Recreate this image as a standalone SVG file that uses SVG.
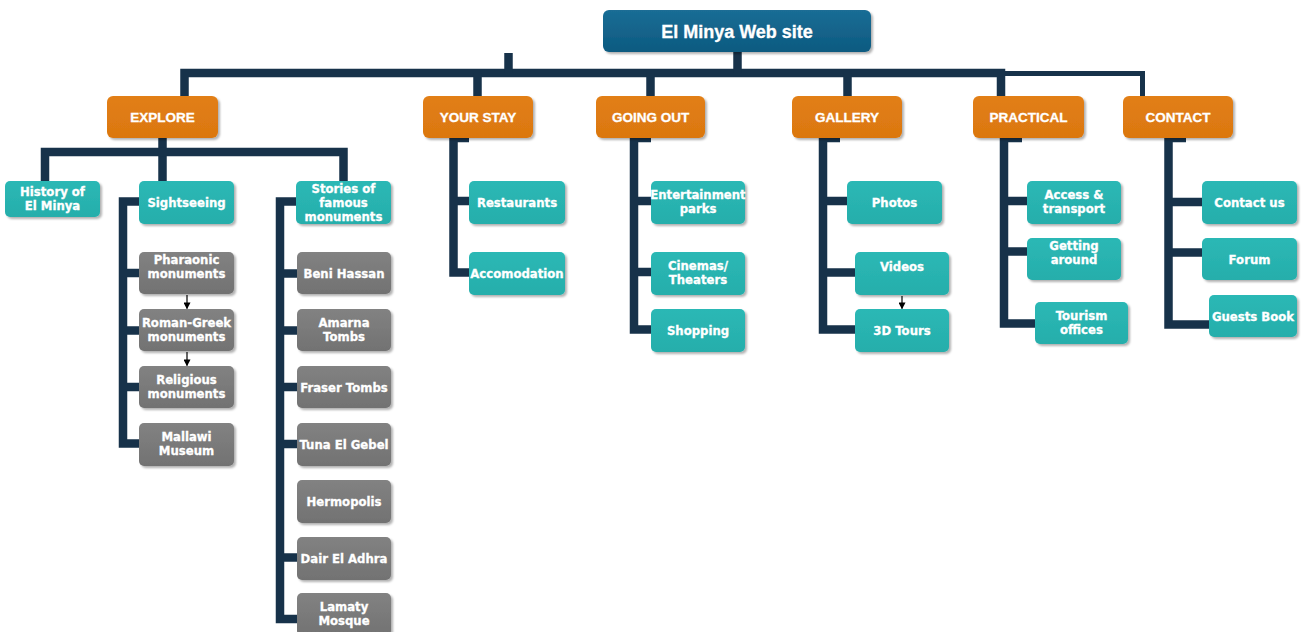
<svg xmlns="http://www.w3.org/2000/svg" width="1306" height="632" viewBox="0 0 1306 632">
<defs>
<linearGradient id="gBlue" x1="0" y1="0" x2="0" y2="1"><stop offset="0" stop-color="#1a6d95"/><stop offset="1" stop-color="#0d5a80"/></linearGradient>
<linearGradient id="gOr" x1="0" y1="0" x2="0" y2="1"><stop offset="0" stop-color="#e27f15"/><stop offset="1" stop-color="#db7710"/></linearGradient>
<linearGradient id="gTeal" x1="0" y1="0" x2="0" y2="1"><stop offset="0" stop-color="#2cb8b5"/><stop offset="1" stop-color="#25aeab"/></linearGradient>
<linearGradient id="gGray" x1="0" y1="0" x2="0" y2="1"><stop offset="0" stop-color="#828282"/><stop offset="1" stop-color="#727272"/></linearGradient>
<filter id="sh" x="-10%" y="-10%" width="125%" height="135%"><feDropShadow dx="2" dy="2" stdDeviation="1.2" flood-color="#000" flood-opacity="0.3"/></filter>
<marker id="ar" viewBox="0 0 8 8" refX="7" refY="4" markerWidth="7" markerHeight="7" markerUnits="userSpaceOnUse" orient="auto"><path d="M0,0 L8,4 L0,8 Z" fill="#000"/></marker>
</defs>
<style>
.c{fill:none;stroke:#17324a;stroke-width:8.5;stroke-linejoin:miter;stroke-linecap:butt}
.ct{fill:none;stroke:#17324a;stroke-width:5}
.a{fill:none;stroke:#000;stroke-width:1.2;marker-end:url(#ar)}
.root rect{fill:url(#gBlue);filter:url(#sh)}
.or rect{fill:url(#gOr);filter:url(#sh)}
.tl rect{fill:url(#gTeal);filter:url(#sh)}
.gr rect{fill:url(#gGray);filter:url(#sh)}
text{fill:#fff;stroke:#fff;stroke-width:0.3;font-weight:bold;text-anchor:middle}
.root text{font-family:"Liberation Sans",Arial,sans-serif;font-size:18px}
.or text{font-family:"Liberation Sans",Arial,sans-serif;font-size:13.5px}
.tl text,.gr text{font-family:"DejaVu Sans",Verdana,sans-serif;font-size:11.7px}
</style>
<rect width="1306" height="632" fill="#fff"/>
<g id="connectors">
<path class="c" d="M184.5,96 V73 H1001 V96"/>
<path class="ct" d="M1001,73.5 H1142.5 V96"/>
<path class="c" d="M737.5,52 V73"/>
<path class="c" d="M508.5,53 V73"/>
<path class="c" d="M477.5,73 V96"/>
<path class="c" d="M650.5,73 V96"/>
<path class="c" d="M847.5,73 V96"/>
<path class="c" d="M162.5,138 V181"/>
<path class="c" d="M45,181 V152 H343.5 V181"/>
<path class="c" d="M139,201.5 H123 V443.5 H139 M123,273 H139 M123,330.5 H139 M123,387 H139"/>
<path class="c" d="M297,201.5 H280 V619 H297 M280,273.5 H297 M280,330.5 H297 M280,387 H297 M280,444 H297 M280,557.5 H297"/>
<path class="c" d="M469,138 H453.5 V272.5 H469 M453.5,201 H469"/>
<path class="c" d="M651,138 H634 V329.5 H651 M634,201 H651 M634,272 H651"/>
<path class="c" d="M840,138 H823 V329.5 H855 M823,201 H847 M823,272.5 H855"/>
<path class="c" d="M1022,138 H1004 V323.5 H1035 M1004,201 H1027 M1004,251.5 H1027"/>
<path class="c" d="M1186,138 H1168.5 V324.5 H1209 M1168.5,202 H1202 M1168.5,252.5 H1202"/>
<path class="a" d="M187,295 V308.5"/>
<path class="a" d="M187,352 V365.5"/>
<path class="a" d="M902,296 V308.5"/>
</g>
<g id="n-root" class="root"><rect x="603" y="10" width="268" height="42" rx="6"/><text x="737" y="37.5">El Minya Web site</text></g>
<g id="n-explore" class="or"><rect x="107" y="96" width="111" height="42" rx="6"/><text x="162.5" y="121.5">EXPLORE</text></g>
<g id="n-yourstay" class="or"><rect x="423" y="96" width="110" height="42" rx="6"/><text x="478" y="121.5">YOUR STAY</text></g>
<g id="n-goingout" class="or"><rect x="596" y="96" width="109" height="42" rx="6"/><text x="650.5" y="121.5">GOING OUT</text></g>
<g id="n-gallery" class="or"><rect x="792" y="96" width="110" height="42" rx="6"/><text x="847" y="121.5">GALLERY</text></g>
<g id="n-practical" class="or"><rect x="973" y="96" width="111" height="42" rx="6"/><text x="1028.5" y="121.5">PRACTICAL</text></g>
<g id="n-contact" class="or"><rect x="1123" y="96" width="110" height="42" rx="6"/><text x="1178" y="121.5">CONTACT</text></g>
<g id="n-history" class="tl"><rect x="5" y="181" width="95" height="36" rx="5"/><text x="52.5" y="196">History of</text><text x="52.5" y="210">El Minya</text></g>
<g id="n-sightseeing" class="tl"><rect x="139" y="181" width="95" height="43" rx="5"/><text x="186.5" y="206.5">Sightseeing</text></g>
<g id="n-stories" class="tl"><rect x="296" y="181" width="95" height="43" rx="5"/><text x="343.5" y="192.5">Stories of</text><text x="343.5" y="206.5">famous</text><text x="343.5" y="220.5">monuments</text></g>
<g id="n-pharaonic" class="gr"><rect x="139" y="252" width="95" height="42" rx="5"/><text x="186.5" y="264">Pharaonic</text><text x="186.5" y="278">monuments</text></g>
<g id="n-romangreek" class="gr"><rect x="139" y="309" width="95" height="42" rx="5"/><text x="186.5" y="327">Roman-Greek</text><text x="186.5" y="341">monuments</text></g>
<g id="n-religious" class="gr"><rect x="139" y="366" width="95" height="42" rx="5"/><text x="186.5" y="384">Religious</text><text x="186.5" y="398">monuments</text></g>
<g id="n-mallawi" class="gr"><rect x="139" y="423" width="95" height="43" rx="5"/><text x="186.5" y="441">Mallawi</text><text x="186.5" y="455">Museum</text></g>
<g id="n-beni" class="gr"><rect x="297" y="252" width="94" height="42" rx="5"/><text x="344" y="277.5">Beni Hassan</text></g>
<g id="n-amarna" class="gr"><rect x="297" y="309" width="94" height="42" rx="5"/><text x="344" y="327">Amarna</text><text x="344" y="341">Tombs</text></g>
<g id="n-fraser" class="gr"><rect x="297" y="366" width="94" height="42" rx="5"/><text x="344" y="391.5">Fraser Tombs</text></g>
<g id="n-tuna" class="gr"><rect x="297" y="423" width="94" height="43" rx="5"/><text x="344" y="448.5">Tuna El Gebel</text></g>
<g id="n-hermopolis" class="gr"><rect x="297" y="480" width="94" height="43" rx="5"/><text x="344" y="505.5">Hermopolis</text></g>
<g id="n-dair" class="gr"><rect x="297" y="537" width="94" height="43" rx="5"/><text x="344" y="562.5">Dair El Adhra</text></g>
<g id="n-lamaty" class="gr"><rect x="297" y="593" width="94" height="43" rx="5"/><text x="344" y="611">Lamaty</text><text x="344" y="625">Mosque</text></g>
<g id="n-restaurants" class="tl"><rect x="469" y="181" width="96" height="43" rx="5"/><text x="517" y="206.5">Restaurants</text></g>
<g id="n-accomodation" class="tl"><rect x="469" y="252" width="96" height="43" rx="5"/><text x="517" y="277.5">Accomodation</text></g>
<g id="n-entertainment" class="tl"><rect x="651" y="181" width="94" height="43" rx="5"/><text x="698" y="199">Entertainment</text><text x="698" y="213">parks</text></g>
<g id="n-cinemas" class="tl"><rect x="651" y="252" width="94" height="43" rx="5"/><text x="698" y="270">Cinemas/</text><text x="698" y="284">Theaters</text></g>
<g id="n-shopping" class="tl"><rect x="651" y="309" width="94" height="43" rx="5"/><text x="698" y="334.5">Shopping</text></g>
<g id="n-photos" class="tl"><rect x="847" y="181" width="95" height="43" rx="5"/><text x="894.5" y="206.5">Photos</text></g>
<g id="n-videos" class="tl"><rect x="855" y="252" width="94" height="43" rx="5"/><text x="902" y="271">Videos</text></g>
<g id="n-3dtours" class="tl"><rect x="855" y="309" width="94" height="43" rx="5"/><text x="902" y="334.5">3D Tours</text></g>
<g id="n-access" class="tl"><rect x="1027" y="181" width="94" height="43" rx="5"/><text x="1074" y="199">Access &amp;</text><text x="1074" y="213">transport</text></g>
<g id="n-getting" class="tl"><rect x="1027" y="238" width="94" height="42" rx="5"/><text x="1074" y="249.5">Getting</text><text x="1074" y="263.5">around</text></g>
<g id="n-tourism" class="tl"><rect x="1035" y="302" width="93" height="42" rx="5"/><text x="1081.5" y="320">Tourism</text><text x="1081.5" y="334">offices</text></g>
<g id="n-contactus" class="tl"><rect x="1202" y="181" width="95" height="43" rx="5"/><text x="1249.5" y="206.5">Contact us</text></g>
<g id="n-forum" class="tl"><rect x="1202" y="238" width="95" height="42" rx="5"/><text x="1249.5" y="263.5">Forum</text></g>
<g id="n-guests" class="tl"><rect x="1209" y="295" width="88" height="42" rx="5"/><text x="1253" y="320.5">Guests Book</text></g>
</svg>
